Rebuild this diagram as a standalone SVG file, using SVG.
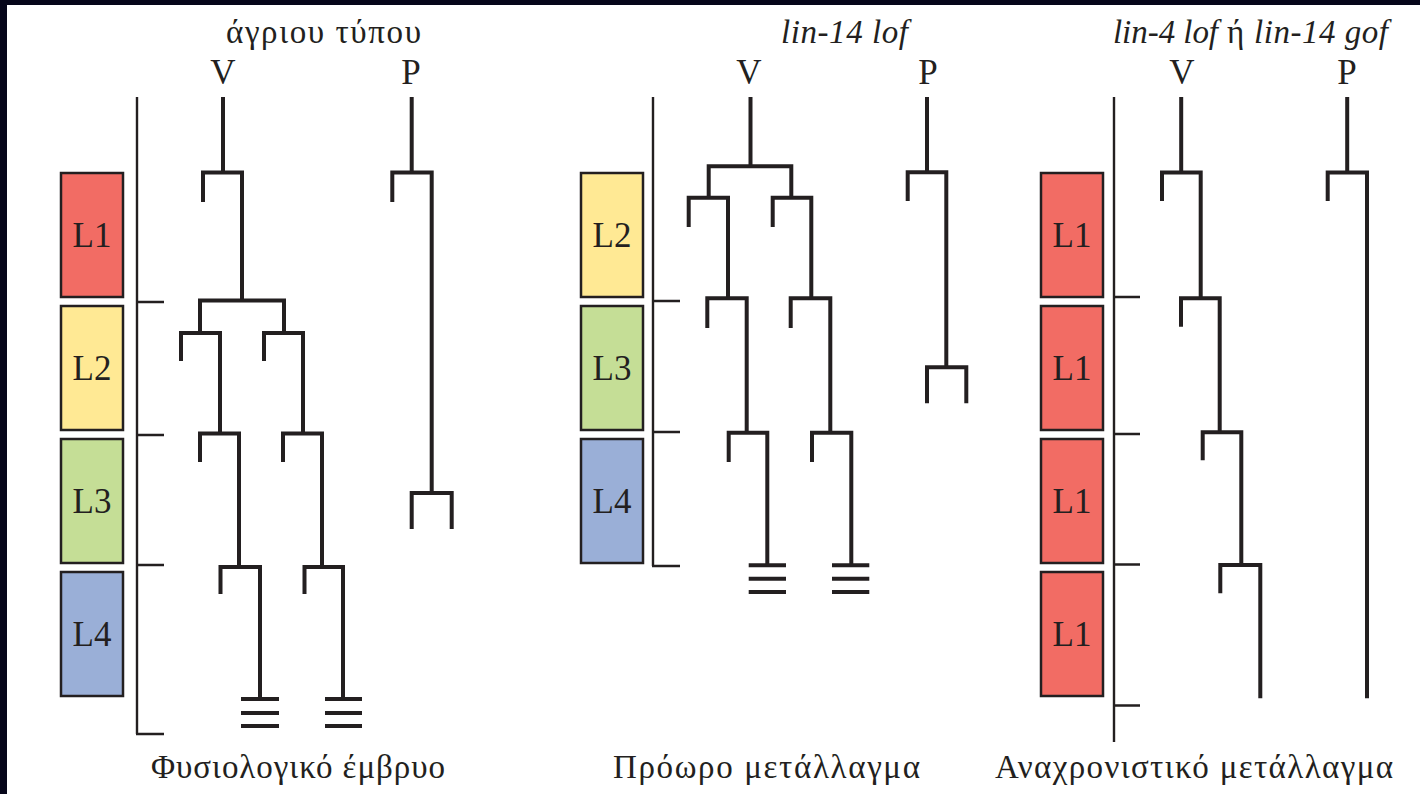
<svg xmlns="http://www.w3.org/2000/svg" width="1420" height="794" viewBox="0 0 1420 794">
<style>
.bg{fill:#ffffff}
.band{fill:#06061a}
.ln{fill:none;stroke:#231f20;stroke-width:4;stroke-linejoin:miter;stroke-linecap:butt}
.tl{fill:none;stroke:#231f20;stroke-width:2.4}
.box{stroke:#231f20;stroke-width:2.5}
.r{fill:#f26c64}.y{fill:#ffe994}.g{fill:#c5de96}.b{fill:#9aafd7}
.t{font-family:"Liberation Serif","Times New Roman",serif;fill:#231f20}
.lab{font-size:35px;text-anchor:middle}
.head{font-size:33px}
.it{font-style:italic}
</style>
<rect class="bg" x="0" y="0" width="1420" height="794"/>
<rect class="band" x="0" y="0" width="1420" height="5"/>
<rect class="band" x="0" y="0" width="7" height="794"/>

<!-- Panel 1: wild type -->
<g id="panel1">
  <text class="t head" x="226" y="43" textLength="195">άγριου τύπου</text>
  <text class="t lab" x="223" y="84">V</text>
  <text class="t lab" x="411" y="84">P</text>
  <g id="p1-L1"><rect class="box r" x="61" y="173" width="62" height="124"/><text class="t lab" x="92" y="247">L1</text></g>
  <g id="p1-L2"><rect class="box y" x="61" y="306" width="62" height="124"/><text class="t lab" x="92" y="380">L2</text></g>
  <g id="p1-L3"><rect class="box g" x="61" y="439" width="62" height="124"/><text class="t lab" x="92" y="513">L3</text></g>
  <g id="p1-L4"><rect class="box b" x="61" y="572" width="62" height="124"/><text class="t lab" x="92" y="646">L4</text></g>
  <text class="t head" x="151" y="778" textLength="294">Φυσιολογικό έμβρυο</text>
</g>

<!-- Panel 2: lin-14 lof -->
<g id="panel2">
  <text class="t head it" x="781" y="43" textLength="127">lin-14 lof</text>
  <text class="t lab" x="749" y="84">V</text>
  <text class="t lab" x="928" y="84">P</text>
  <g id="p2-L2"><rect class="box y" x="581" y="173" width="62" height="124"/><text class="t lab" x="612" y="247">L2</text></g>
  <g id="p2-L3"><rect class="box g" x="581" y="306" width="62" height="124"/><text class="t lab" x="612" y="380">L3</text></g>
  <g id="p2-L4"><rect class="box b" x="581" y="439" width="62" height="124"/><text class="t lab" x="612" y="513">L4</text></g>
  <text class="t head" x="613" y="778" textLength="307">Πρόωρο μετάλλαγμα</text>
</g>

<!-- Panel 3: lin-4 lof or lin-14 gof -->
<g id="panel3">
  <text class="t head" y="43"><tspan class="it" x="1113" textLength="105">lin-4 lof</tspan><tspan x="1227">ή</tspan><tspan class="it" x="1254" textLength="134">lin-14 gof</tspan></text>
  <text class="t lab" x="1182" y="84">V</text>
  <text class="t lab" x="1347" y="84">P</text>
  <g id="p3-L1a"><rect class="box r" x="1041" y="173" width="62" height="124"/><text class="t lab" x="1072" y="247">L1</text></g>
  <g id="p3-L1b"><rect class="box r" x="1041" y="306" width="62" height="124"/><text class="t lab" x="1072" y="380">L1</text></g>
  <g id="p3-L1c"><rect class="box r" x="1041" y="439" width="62" height="124"/><text class="t lab" x="1072" y="513">L1</text></g>
  <g id="p3-L1d"><rect class="box r" x="1041" y="572" width="62" height="124"/><text class="t lab" x="1072" y="646">L1</text></g>
  <text class="t head" x="995" y="778" textLength="398">Αναχρονιστικό μετάλλαγμα</text>
</g>

<g id="connectors">
  <!-- timelines -->
  <path class="tl" d="M137 97 V734 M136 302 H164 M136 435 H164 M136 565 H164 M136 734 H164"/>
  <path class="tl" d="M653 97 V566 M652 301 H680 M652 432 H680 M652 566 H680"/>
  <path class="tl" d="M1114 97 V742 M1113 297 H1140 M1113 434 H1140 M1113 564.5 H1140 M1113 705.5 H1140"/>

  <!-- panel 1 V lineage -->
  <path class="ln" d="M223 97 V172.5"/>
  <path class="ln" d="M203 202 V172.5 H242 V300.5"/>
  <path class="ln" d="M200 331 V300.5 H284 V331"/>
  <path class="ln" d="M181 361 V333 H220 V433.5"/>
  <path class="ln" d="M264 361 V333 H303 V433.5"/>
  <path class="ln" d="M200 462 V433.5 H239 V567"/>
  <path class="ln" d="M283 462 V433.5 H322 V567"/>
  <path class="ln" d="M220.5 594 V567 H260 V697"/>
  <path class="ln" d="M304.5 594 V567 H343 V697"/>
  <path class="ln" d="M241 699 H279 M241 713 H279 M241 726 H279"/>
  <path class="ln" d="M325 699 H362 M325 713 H362 M325 726 H362"/>
  <!-- panel 1 P lineage -->
  <path class="ln" d="M411.7 97 V172.5"/>
  <path class="ln" d="M392.3 202 V172.5 H431.7 V493"/>
  <path class="ln" d="M411.7 529 V493 H451.7 V529"/>

  <!-- panel 2 V lineage -->
  <path class="ln" d="M750.5 97 V166.3"/>
  <path class="ln" d="M708.7 197.8 V166.3 H791.3 V197.8"/>
  <path class="ln" d="M688.7 227 V197.8 H728 V298.3"/>
  <path class="ln" d="M772.7 227 V197.8 H811.3 V298.3"/>
  <path class="ln" d="M707.3 328 V298.3 H746.7 V432.8"/>
  <path class="ln" d="M790.7 328 V298.3 H830.3 V432.8"/>
  <path class="ln" d="M728.7 462 V432.8 H767.3 V564"/>
  <path class="ln" d="M812 462 V432.8 H851.3 V564"/>
  <path class="ln" d="M748.7 565.3 H786 M748.7 578.7 H786 M748.7 592 H786"/>
  <path class="ln" d="M832 565.3 H869.3 M832 578.7 H869.3 M832 592 H869.3"/>
  <!-- panel 2 P lineage -->
  <path class="ln" d="M927 97 V172.2"/>
  <path class="ln" d="M907.7 201 V172.2 H946.3 V367.2"/>
  <path class="ln" d="M927 403.3 V367.2 H966.3 V403.3"/>

  <!-- panel 3 V lineage -->
  <path class="ln" d="M1181.2 97 V172.5"/>
  <path class="ln" d="M1162 201 V172.5 H1200.7 V298.3"/>
  <path class="ln" d="M1181 326.7 V298.3 H1219.7 V432.2"/>
  <path class="ln" d="M1202.7 460.3 V432.2 H1241.3 V565"/>
  <path class="ln" d="M1220.3 593.3 V565 H1260.3 V698.3"/>
  <!-- panel 3 P lineage -->
  <path class="ln" d="M1347.2 97 V172.5"/>
  <path class="ln" d="M1327.7 201 V172.5 H1367 V698.3"/>
</g>
</svg>
